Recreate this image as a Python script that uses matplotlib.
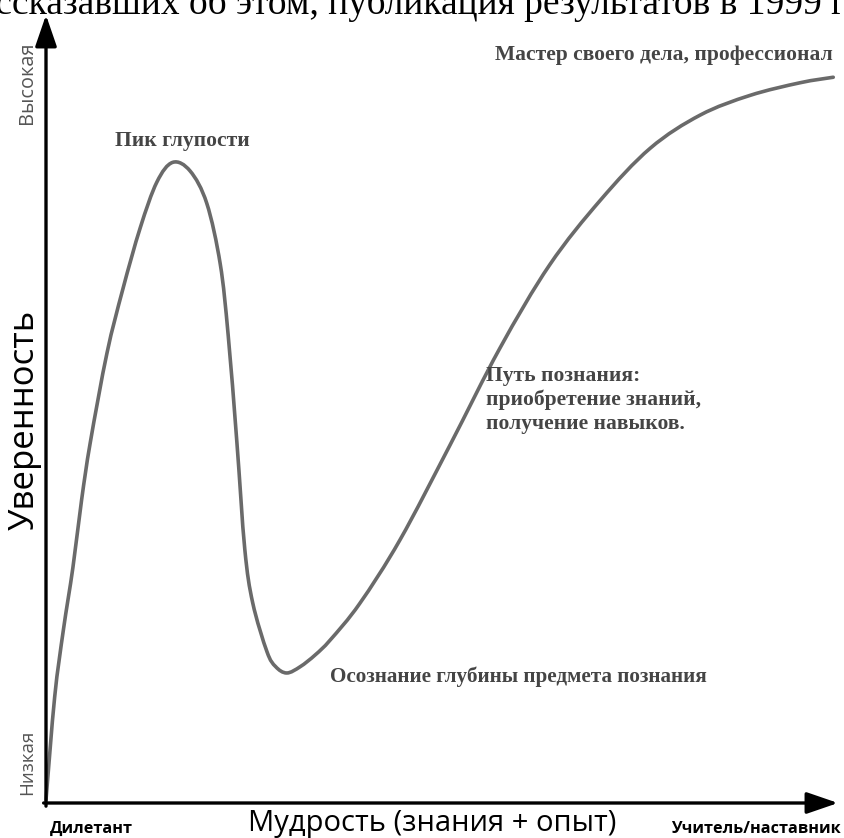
import numpy as np
import matplotlib
matplotlib.use('Agg')
import matplotlib.pyplot as plt
from matplotlib.path import Path
from matplotlib.patches import PathPatch

# Кривая Даннинга-Крюгера: мудрость (0..100) против уверенности (0..100)
wisdom = [0, 1.1, 2.2, 3.4, 4.5, 5.6, 7.7, 9.7, 11.9, 14.0, 16.0, 18.2,
          20.3, 22.0, 23.0, 24.1, 25.1, 26.1, 27.9, 29.0, 30.4, 32.1, 34.0,
          35.9, 39.6, 44.7, 51.0, 57.3, 63.6, 70.0, 76.3, 82.6, 88.9, 95.2, 99.4]
confidence = [0.4, 13.5, 22.0, 29.9, 38.5, 45.8, 57.1, 65.2, 73.0, 78.8, 81.3, 80.2,
              76.1, 68.4, 59.4, 45.8, 32.2, 25.4, 19.2, 17.3, 16.5, 17.3, 18.8,
              20.7, 25.3, 33.4, 45.4, 57.7, 68.3, 76.5, 83.1, 87.3, 89.8, 91.4, 92.1]

y_low, y_high = 'Низкая', 'Высокая'
x_low, x_high = 'Дилетант', 'Учитель/наставник'
y_title = 'Уверенность'
x_title = 'Мудрость (знания + опыт)'

serif = ['Liberation Serif', 'DejaVu Serif']
sans = ['Open Sans', 'DejaVu Sans']
label_color = '#454545'


def smooth_path(xs, ys):
    """Catmull-Rom through the points, drawn as cubic Bezier segments."""
    p = np.column_stack([xs, ys]).astype(float)
    verts = [p[0]]
    codes = [Path.MOVETO]
    for i in range(len(p) - 1):
        p0 = p[i - 1] if i > 0 else p[i]
        p1, p2 = p[i], p[i + 1]
        p3 = p[i + 2] if i + 2 < len(p) else p[i + 1]
        verts += [p1 + (p2 - p0) / 6, p2 - (p3 - p1) / 6, p2]
        codes += [Path.CURVE4] * 3
    return Path(verts, codes)


fig = plt.figure(figsize=(8.44, 8.38), dpi=100)
fig.patch.set_facecolor('white')
W, H = 844, 838

# axes placed so the spines sit where the arrows are in the picture
ax = fig.add_axes([46 / W, (H - 803) / H, (838 - 46) / W, (803 - 15) / H])
ax.set_xlim(0, 100)
ax.set_ylim(0, 100)
ax.axis('off')

ax.add_patch(PathPatch(smooth_path(wisdom, confidence), facecolor='none', edgecolor='#6a6a6a',
                       lw=2.6, joinstyle='round', capstyle='round', clip_on=False))

# axis arrows
arrow = dict(arrowstyle='-|>,head_length=1.6,head_width=0.55', color='black', lw=2.4,
             shrinkA=0, shrinkB=0, mutation_scale=12)
ax.annotate('', xy=(0, 1), xytext=(0, -0.004), xycoords='axes fraction', arrowprops=arrow)
ax.annotate('', xy=(1, 0), xytext=(-0.003, 0), xycoords='axes fraction', arrowprops=arrow)

# labels on the curve
ax.text(25.7, 82.7, 'Пик глупости', family=serif, fontweight='bold', fontsize=15.5,
        color=label_color, ha='right', va='bottom')
ax.text(99.3, 93.6, 'Мастер своего дела, профессионал', family=serif, fontweight='bold',
        fontsize=15.5, color=label_color, ha='right', va='bottom')
ax.text(55.6, 46.8, 'Путь познания:\nприобретение знаний,\nполучение навыков.', family=serif,
        fontweight='bold', fontsize=15.5, color=label_color, ha='left', va='bottom',
        linespacing=1.25)
ax.text(35.8, 16.0, 'Осознание глубины предмета познания', family=serif, fontweight='bold',
        fontsize=15.2, color=label_color, ha='left', va='center')

# axis texts
fig.text(27 / W, 1 - 83 / H, y_high, rotation=90, family=sans, fontsize=14.3, color='#555555',
         ha='center', va='center')
fig.text(27 / W, 1 - 762 / H, y_low, rotation=90, family=sans, fontsize=13.5, color='#555555',
         ha='center', va='center')
fig.text(25 / W, 1 - 420 / H, y_title, rotation=90, family=sans, fontsize=25, color='black',
         ha='center', va='center')
fig.text(432 / W, 1 - 823 / H, x_title, family=sans, fontsize=21, color='black',
         ha='center', va='center')
fig.text(50 / W, 1 - 829 / H, x_low, family=sans, fontweight='bold', fontsize=11.7,
         color='black', ha='left', va='center')
fig.text(841 / W, 1 - 829 / H, x_high, family=sans, fontweight='bold', fontsize=11.7,
         color='black', ha='right', va='center')

# cut-off line of the surrounding article at the very top
fig.text(852 / W, 1 - 14 / H, 'рассказавших об этом, публикация результатов в 1999 г.',
         family=serif, fontsize=27, color='black', ha='right', va='baseline')

fig.savefig('out.png', dpi=100, facecolor='white')
